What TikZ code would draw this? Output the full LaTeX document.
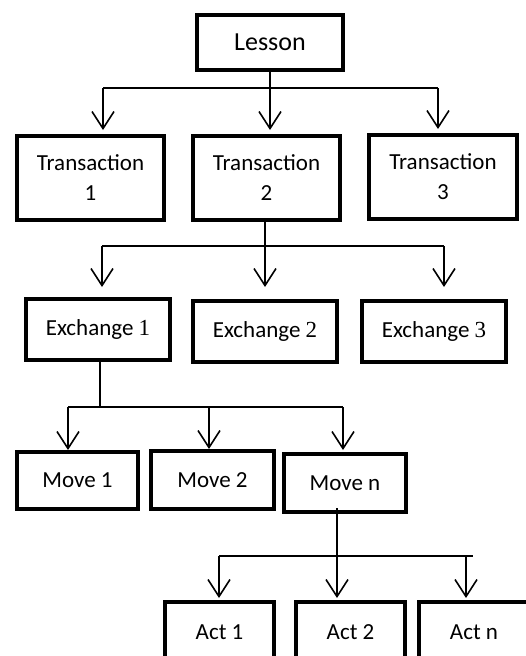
\documentclass[tikz,border=0pt]{standalone}
\usepackage{fontspec}
\setmainfont{Carlito}
\newfontfamily\numfont{Liberation Serif}
\usetikzlibrary{arrows.meta}

\begin{document}
\begin{tikzpicture}[x=1pt, y=-1pt,
  box/.style={draw, line width=4pt, inner sep=0pt, align=center, font=\fontsize{23}{30}\selectfont},
  link/.style={line width=1.6pt},
  arr/.style={link, -{Straight Barb[length=17pt,width=22pt]}}]
 \useasboundingbox (0,0) rectangle (526,656);
 \clip (0,0) rectangle (526,656);

 \node[box, minimum width=146pt, minimum height=55pt, font=\fontsize{26}{30}\selectfont] (L) at (270,42.5) {Lesson};

 \node[box, minimum width=147pt, minimum height=84pt] (T1) at (90.5,178) {Transaction\\1};
 \node[box, minimum width=147pt, minimum height=84pt] (T2) at (266.5,178) {Transaction\\2};
 \node[box, minimum width=148pt, minimum height=84pt] (T3) at (443,177) {Transaction\\3};

 \node[box, minimum width=144pt, minimum height=61pt] (E1) at (98,329.5) {Exchange {\numfont 1}};
 \node[box, minimum width=144pt, minimum height=61pt] (E2) at (265,331.5) {Exchange {\numfont 2}};
 \node[box, minimum width=144pt, minimum height=61pt] (E3) at (434,331.5) {Exchange {\numfont 3}};

 \node[box, minimum width=121pt, minimum height=57pt] (M1) at (77.5,480.5) {Move 1};
 \node[box, minimum width=123pt, minimum height=58pt] (M2) at (212.5,480) {Move 2};
 \node[box, minimum width=122pt, minimum height=58pt] (Mn) at (345,483) {Move n};

 \node[box, minimum width=109pt, minimum height=60pt] (A1) at (219.5,632) {Act 1};
 \node[box, minimum width=109pt, minimum height=60pt] (A2) at (350.5,632) {Act 2};
 \node[box, minimum width=110pt, minimum height=60pt] (An) at (474,632) {Act n};

 \coordinate (l1) at (103,88);
 \coordinate (l2) at (270,88);
 \coordinate (l3) at (438,88);
 \draw[link] (L) -- (l2);
 \draw[link] (l1) -- (l3);
 \draw[arr, shorten >=4pt] (l1) -- (l1 |- T1.north);
 \draw[arr, shorten >=4pt] (l2) -- (l2 |- T2.north);
 \draw[arr, shorten >=4pt] (l3) -- (l3 |- T3.north);

 \coordinate (t1) at (102,246);
 \coordinate (t2) at (265,246);
 \coordinate (t3) at (444,246);
 \draw[link] (t2 |- T2.south) -- (t2);
 \draw[link] (t1) -- (t3);
 \draw[arr, shorten >=10pt] (t1) -- (t1 |- E1.north);
 \draw[arr, shorten >=12pt] (t2) -- (t2 |- E2.north);
 \draw[arr, shorten >=12pt] (t3) -- (t3 |- E3.north);

 \coordinate (e0) at (100,407);
 \coordinate (e1) at (68,407);
 \coordinate (e2) at (209,407);
 \coordinate (e3) at (343,407);
 \draw[link] (e0 |- E1.south) -- (e0);
 \draw[link] (e1) -- (e3);
 \draw[arr] (e1) -- (e1 |- M1.north);
 \draw[arr] (e2) -- (e2 |- M2.north);
 \draw[arr, shorten >=2pt] (e3) -- (e3 |- Mn.north);

 \coordinate (m1) at (219,556);
 \coordinate (m2) at (337,556);
 \coordinate (m3) at (466,556);
 \coordinate (mend) at (473,556);
 \draw[link] (m1) -- (mend);
 \draw[arr, shorten <=-6pt, shorten >=2pt] (m2 |- Mn.south) -- (m2 |- A2.north);
 \draw[arr, shorten >=2pt] (m1) -- (m1 |- A1.north);
 \draw[arr, shorten >=2pt] (m3) -- (m3 |- An.north);
\end{tikzpicture}
\end{document}
